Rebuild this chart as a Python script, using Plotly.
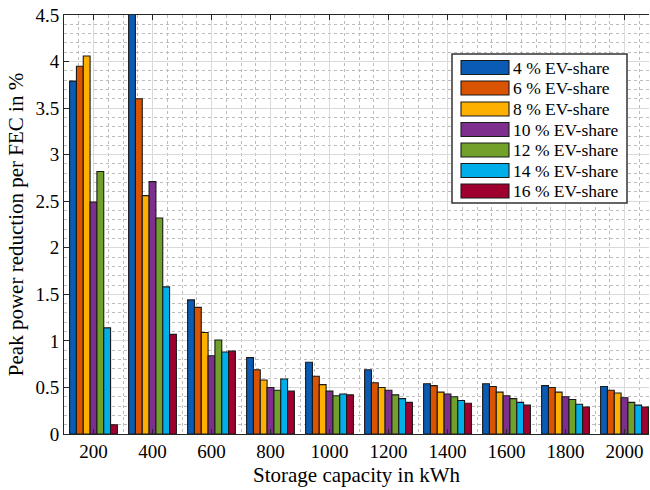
import plotly.graph_objects as go

# Storage capacities (kWh) on the x axis
capacity = [200, 400, 600, 800, 1000, 1200, 1400, 1600, 1800, 2000]

# Peak power reduction per FEC (%) for each EV share
ev4 = [3.79, 4.60, 1.44, 0.82, 0.77, 0.69, 0.54, 0.54, 0.52, 0.51]
ev6 = [3.95, 3.60, 1.36, 0.69, 0.62, 0.55, 0.52, 0.51, 0.50, 0.47]
ev8 = [4.06, 2.56, 1.09, 0.58, 0.53, 0.50, 0.45, 0.45, 0.45, 0.44]
ev10 = [2.49, 2.71, 0.84, 0.50, 0.46, 0.47, 0.43, 0.41, 0.40, 0.39]
ev12 = [2.82, 2.32, 1.01, 0.47, 0.41, 0.42, 0.40, 0.38, 0.37, 0.34]
ev14 = [1.14, 1.58, 0.88, 0.59, 0.43, 0.38, 0.36, 0.34, 0.32, 0.31]
ev16 = [0.10, 1.07, 0.89, 0.46, 0.42, 0.34, 0.33, 0.31, 0.29, 0.29]

series_names = ["4 % EV-share", "6 % EV-share", "8 % EV-share", "10 % EV-share",
                "12 % EV-share", "14 % EV-share", "16 % EV-share"]
series_values = [ev4, ev6, ev8, ev10, ev12, ev14, ev16]
colors = ["#0A5BB4", "#D95300", "#FDB000", "#7E2F8E", "#71A12A", "#00AEEA", "#A0002E"]

x_ticks = capacity
x_labels = [str(c) for c in capacity]
y_ticks = [0, 0.5, 1, 1.5, 2, 2.5, 3, 3.5, 4, 4.5]
y_labels = ["0", "0.5", "1", "1.5", "2", "2.5", "3", "3.5", "4", "4.5"]

W, H = 650, 490
ML, MR, MT, MB = 64, 1, 15, 56
PW, PH = W - ML - MR, H - MT - MB

SERIF = "Liberation Serif, Times New Roman, serif"

fig = go.Figure()
for name, vals, col in zip(series_names, series_values, colors):
    fig.add_trace(go.Bar(
        x=capacity, y=vals, name=name,
        marker=dict(color=col, line=dict(color="#1a1a1a", width=1.1)),
        showlegend=False,
    ))


def px_x(X):
    return (X - ML) / PW


def px_y(Y):
    return (H - MB - Y) / PH


# Legend box drawn with wide colour swatches
shapes = []
annotations = []
box_l, box_r, box_t, box_b = 452, 627, 54, 203
shapes.append(dict(type="rect", xref="paper", yref="paper",
                   x0=px_x(box_l), x1=px_x(box_r), y0=px_y(box_b), y1=px_y(box_t),
                   fillcolor="white", line=dict(color="#333333", width=1.5), layer="above"))
row_centers = [67.5, 88, 109, 129.5, 150, 170.5, 191]
for name, col, yc in zip(series_names, colors, row_centers):
    shapes.append(dict(type="rect", xref="paper", yref="paper",
                       x0=px_x(461), x1=px_x(509), y0=px_y(yc + 7), y1=px_y(yc - 7),
                       fillcolor=col, line=dict(color="#1a1a1a", width=1.1), layer="above"))
    annotations.append(dict(xref="paper", yref="paper", x=px_x(511), y=px_y(yc),
                            text=name, showarrow=False, xanchor="left", yanchor="middle",
                            font=dict(family=SERIF, size=17.5, color="black")))

fig.update_layout(
    width=W, height=H,
    margin=dict(l=ML, r=MR, t=MT, b=MB, pad=0),
    paper_bgcolor="white", plot_bgcolor="white",
    barmode="group", bargap=0.19, bargroupgap=0,
    font=dict(family=SERIF, size=19, color="black"),
    shapes=shapes, annotations=annotations,
    xaxis=dict(
        range=[100, 2083],
        tickmode="array", tickvals=x_ticks, ticktext=x_labels,
        ticks="inside", ticklen=5, tickcolor="#262626",
        showline=True, linecolor="#262626", linewidth=1, mirror="ticks",
        showgrid=True, gridcolor="#dadada", gridwidth=1,
        minor=dict(dtick=50, tick0=0, showgrid=True, gridcolor="#bcbcbc",
                   griddash="dot", gridwidth=1, ticks=""),
        tickfont=dict(family=SERIF, size=19),
        title=dict(text="Storage capacity in kWh", font=dict(family=SERIF, size=21), standoff=6),
        zeroline=False,
    ),
    yaxis=dict(
        range=[0, 4.5],
        tickmode="array", tickvals=y_ticks, ticktext=y_labels,
        ticks="inside", ticklen=5, tickcolor="#262626",
        showline=True, linecolor="#262626", linewidth=1, mirror=False,
        showgrid=True, gridcolor="#dadada", gridwidth=1,
        minor=dict(dtick=0.1, tick0=0, showgrid=True, gridcolor="#bcbcbc",
                   griddash="dot", gridwidth=1, ticks=""),
        tickfont=dict(family=SERIF, size=19),
        title=dict(text="Peak power reduction per FEC in %", font=dict(family=SERIF, size=21), standoff=6),
        zeroline=False,
    ),
)

fig.write_html("out.html")
